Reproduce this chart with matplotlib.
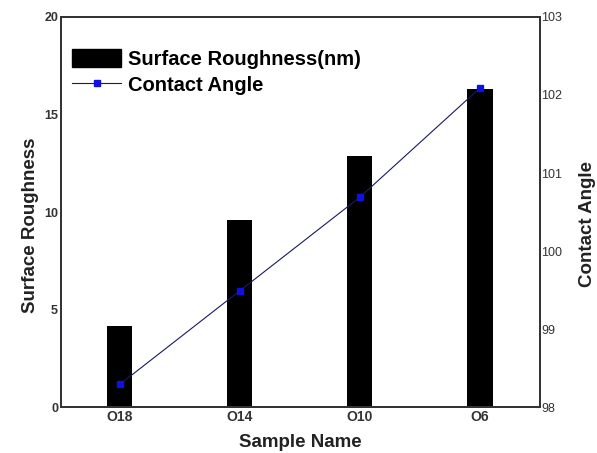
import numpy as np
import matplotlib.pyplot as plt
from matplotlib.patches import Patch
from matplotlib.lines import Line2D

plt.rcParams['font.family'] = ['Liberation Sans', 'DejaVu Sans']

samples = ['O18', 'O14', 'O10', 'O6']
roughness = [4.15, 9.6, 12.85, 16.3]
contact_angle = [98.29, 99.49, 100.69, 102.09]

fig = plt.figure(figsize=(5.97, 4.53), dpi=100)
ax = fig.add_axes([0.102, 0.1015, 0.8025, 0.861])
x = np.arange(len(samples))

ax.bar(x, roughness, width=0.21, color='black', zorder=2)
ax.set_xlim(-0.49, 3.5)
ax.set_ylim(0, 20)
ax.set_yticks([0, 5, 10, 15, 20])
ax.set_xticks(x)
ax.set_xticklabels(samples, fontsize=10, fontweight='bold', color='#333333')
for lbl in ax.get_yticklabels():
    lbl.set_fontweight('bold')
    lbl.set_fontsize(9)
    lbl.set_color('#333333')
ax.tick_params(axis='both', length=0, pad=2)
ax.set_xlabel('Sample Name', fontsize=13.5, fontweight='bold', color='#222222', labelpad=7)
ax.set_ylabel('Surface Roughness', fontsize=13.5, fontweight='bold', color='#222222')
ax.yaxis.set_label_coords(-0.046, 0.467)
for sp in ax.spines.values():
    sp.set_linewidth(1.3)
    sp.set_color('#333333')

ax2 = ax.twinx()
ax2.plot(x, contact_angle, color='#1a1a5e', linewidth=0.8, marker='s',
         markersize=5, markerfacecolor='#1010e0', markeredgecolor='#1010e0', zorder=3)
ax2.set_ylim(98, 103)
ax2.set_yticks([98, 99, 100, 101, 102, 103])
ax2.tick_params(axis='y', length=0, pad=1, labelsize=9, labelcolor='#333333')
ax2.set_ylabel('Contact Angle', fontsize=13.5, fontweight='bold', color='#222222')
ax2.yaxis.set_label_coords(1.081, 0.47)
for sp in ax2.spines.values():
    sp.set_linewidth(1.3)
    sp.set_color('#333333')

handles = [
    Patch(facecolor='black', edgecolor='black', label='Surface Roughness(nm)'),
    Line2D([0], [0], color='#1a1a5e', linewidth=0.8, marker='s', markersize=5,
           markerfacecolor='#1010e0', markeredgecolor='#1010e0', label='Contact Angle'),
]
ax.legend(handles=handles, loc='upper left', bbox_to_anchor=(-0.015, 0.965),
          frameon=False, prop={'weight': 'bold', 'size': 14.5},
          handlelength=2.45, handleheight=1.0, handletextpad=0.35, labelspacing=0.3)

fig.savefig('out.png', dpi=100)
